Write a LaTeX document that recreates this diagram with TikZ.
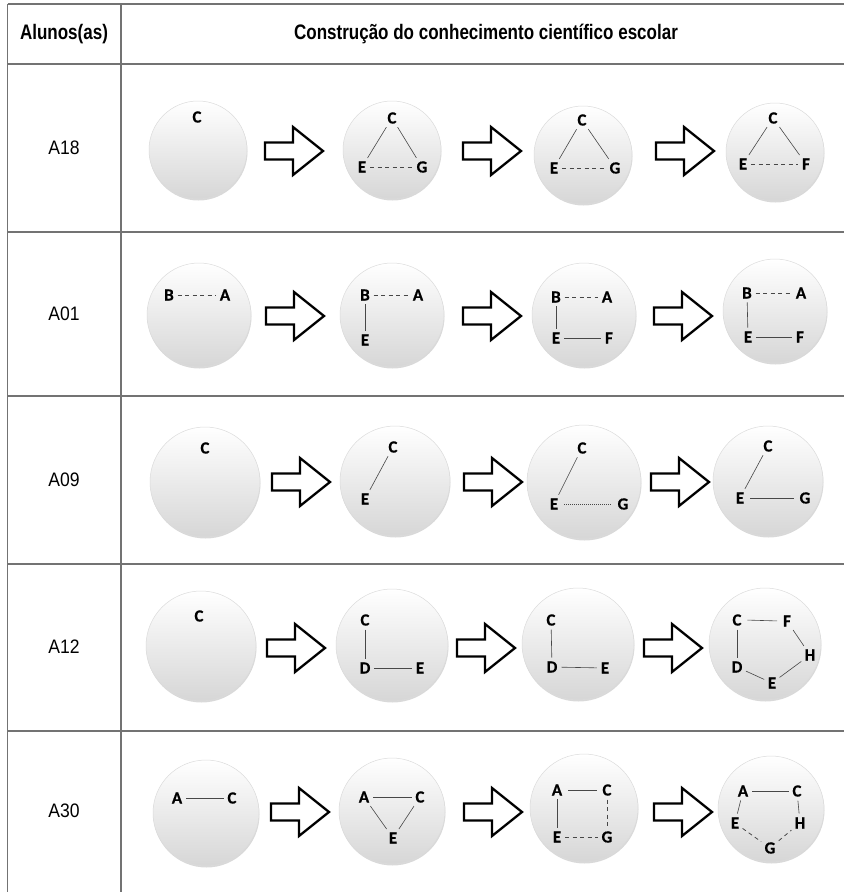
\documentclass[tikz,border=0pt]{standalone}
\usepackage{fontspec}
\usetikzlibrary{shadows}
\newfontfamily\hdrfont{Liberation Sans}[FakeStretch=0.81]
\newfontfamily\rowfont{Liberation Sans}[FakeStretch=0.9]
\newfontfamily\labfont{Carlito}[FakeBold=0.6]
\tikzset{
  tline/.style={draw=black!55, line width=1.3pt},
  hdr/.style={font=\hdrfont\bfseries\fontsize{21}{21}\selectfont, inner sep=0pt},
  rowlab/.style={font=\rowfont\fontsize{19.5}{19.5}\selectfont, inner sep=0pt},
  bubble/.style={circle, inner sep=0pt, minimum size=#1, top color=white, bottom color=black!16,
    draw=black!14, line width=0.5pt,
    drop shadow={opacity=0.3, shadow xshift=0.5pt, shadow yshift=-1.5pt}},
  lab/.style={font=\labfont\bfseries\fontsize{17}{17}\selectfont, inner sep=1.2pt, text=black},
  ln/.style={draw=black!72, line width=0.6pt, shorten >=2.5pt, shorten <=2.5pt},
  dsh/.style={ln, line width=0.8pt, dash pattern=on 4pt off 3.5pt},
  dtt/.style={ln, line width=0.6pt, dash pattern=on 1pt off 1pt},
  barrow/.style={draw=black, fill=white, line width=2.3pt, line join=miter}
}
\newcommand\blockarrow[1]{\draw[barrow, shift={(#1)}] (-29,-8.5) -- (-1,-8.5) -- (-1,-24) -- (29,0) -- (-1,24) -- (-1,8.5) -- (-29,8.5) -- cycle;}
\begin{document}
\begin{tikzpicture}[x=1pt,y=-1pt]
\useasboundingbox (0,0) rectangle (844,892);
% table
\draw[tline] (7.5,4) -- (844,4);
\draw[tline] (7.5,64) -- (844,64);
\draw[tline] (7.5,232) -- (844,232);
\draw[tline] (7.5,396) -- (844,396);
\draw[tline] (7.5,564) -- (844,564);
\draw[tline] (7.5,731) -- (844,731);
\draw[tline] (7.5,4) -- (7.5,892);
\draw[tline] (121,4) -- (121,892);
\node[hdr] (h1) at (64,34) {Alunos(as)};
\node[hdr] (h2) at (486,34) {Construção do conhecimento científico escolar};
\node[rowlab] (l1) at (64,148) {A18};
\node[rowlab] (l2) at (64,314) {A01};
\node[rowlab] (l3) at (64,480) {A09};
\node[rowlab] (l4) at (64,647) {A12};
\node[rowlab] (l5) at (64,811) {A30};
% arrows
\blockarrow{294,151}\blockarrow{492,151}\blockarrow{685,151}
\blockarrow{295,316}\blockarrow{492,316}\blockarrow{683,316}
\blockarrow{301,482}\blockarrow{493,482}\blockarrow{680,482}
\blockarrow{296,648}\blockarrow{486,648}\blockarrow{673,648}
\blockarrow{300,812}\blockarrow{493,812}\blockarrow{683,812}
% ---------- row 1 (A18)
\node[bubble=98pt] (b11) at (198,150) {};
\node[bubble=98pt] (b12) at (392,150) {};
\node[bubble=98pt] (b13) at (583,155) {};
\node[bubble=98pt] (b14) at (775,152) {};
\node[lab] (a11C) at (197,117) {C};
\node[lab] (a12C) at (392,118) {C};
\node[lab] (a12E) at (362,167) {E};
\node[lab] (a12G) at (422,167) {G};
\draw[ln] (a12C) -- (a12E); \draw[ln] (a12C) -- (a12G); \draw[dsh] (a12E) -- (a12G);
\node[lab] (a13C) at (582,120) {C};
\node[lab] (a13E) at (554,168) {E};
\node[lab] (a13G) at (615,168) {G};
\draw[ln] (a13C) -- (a13E); \draw[ln] (a13C) -- (a13G); \draw[dsh] (a13E) -- (a13G);
\node[lab] (a14C) at (773,118) {C};
\node[lab] (a14E) at (743,164) {E};
\node[lab] (a14F) at (806,164) {F};
\draw[ln] (a14C) -- (a14E); \draw[ln] (a14C) -- (a14F); \draw[dsh] (a14E) -- (a14F);
% ---------- row 2 (A01)
\node[bubble=104pt] (b21) at (199,315) {};
\node[bubble=104pt] (b22) at (392,315) {};
\node[bubble=104pt] (b23) at (584,315) {};
\node[bubble=104pt] (b24) at (775,311) {};
\node[lab] (a21B) at (169,295) {B};
\node[lab] (a21A) at (225,295) {A};
\draw[dsh] (a21B) -- (a21A);
\node[lab] (a22B) at (365,295) {B};
\node[lab] (a22A) at (418,295) {A};
\node[lab] (a22E) at (365,340) {E};
\draw[dsh] (a22B) -- (a22A); \draw[ln] (a22B) -- (a22E);
\node[lab] (a23B) at (556,297) {B};
\node[lab] (a23A) at (607,297) {A};
\node[lab] (a23E) at (556,338) {E};
\node[lab] (a23F) at (609,338) {F};
\draw[dsh] (a23B) -- (a23A); \draw[ln] (a23B) -- (a23E); \draw[ln] (a23E) -- (a23F);
\node[lab] (a24B) at (747,293) {B};
\node[lab] (a24A) at (801,293) {A};
\node[lab] (a24E) at (748,337) {E};
\node[lab] (a24F) at (800,337) {F};
\draw[dsh] (a24B) -- (a24A); \draw[ln] (a24B) -- (a24E); \draw[ln] (a24E) -- (a24F);
% ---------- row 3 (A09)
\node[bubble=110pt] (b31) at (205,482) {};
\node[bubble=110pt] (b32) at (395,481) {};
\node[bubble=114pt] (b33) at (584,482) {};
\node[bubble=110pt] (b34) at (768,481) {};
\node[lab] (a31C) at (205,448) {C};
\node[lab] (a32C) at (393,447) {C};
\node[lab] (a32E) at (365,499) {E};
\draw[ln] (a32C) -- (a32E);
\node[lab] (a33C) at (582,448) {C};
\node[lab] (a33E) at (554,504) {E};
\node[lab] (a33G) at (623,504) {G};
\draw[ln] (a33C) -- (a33E); \draw[dtt] ([xshift=2pt]a33E.east) -- ([xshift=-2pt]a33G.west);
\node[lab] (a34C) at (768,446) {C};
\node[lab] (a34E) at (740,498) {E};
\node[lab] (a34G) at (805,498) {G};
\draw[ln] (a34C) -- (a34E); \draw[ln] ([xshift=2pt]a34E.east) -- ([xshift=-2pt]a34G.west);
% ---------- row 4 (A12)
\node[bubble=110pt] (b41) at (201,646) {};
\node[bubble=112pt] (b42) at (392,645) {};
\node[bubble=112pt] (b43) at (578,644) {};
\node[bubble=112pt] (b44) at (765,644) {};
\node[lab] (a41C) at (199,616) {C};
\node[lab] (a42C) at (365,620) {C};
\node[lab] (a42D) at (365,668) {D};
\node[lab] (a42E) at (420,668) {E};
\draw[ln] (a42C) -- (a42D); \draw[ln] (a42D) -- (a42E);
\node[lab] (a43C) at (551,620) {C};
\node[lab] (a43D) at (552,667) {D};
\node[lab] (a43E) at (605,668) {E};
\draw[ln] (a43C) -- (a43D); \draw[ln] (a43D) -- (a43E);
\node[lab] (a44C) at (737,620) {C};
\node[lab] (a44F) at (787,621) {F};
\node[lab] (a44H) at (810,655) {H};
\node[lab] (a44D) at (737,667) {D};
\node[lab] (a44E) at (772,683) {E};
\draw[ln] ([xshift=2pt]a44C.east) -- ([xshift=-2pt]a44F.west); \draw[ln] (a44F) -- (a44H); \draw[ln] (a44H) -- (a44E);
\draw[ln] (a44D) -- (a44E); \draw[ln] (a44C) -- (a44D);
% ---------- row 5 (A30)
\node[bubble=106pt] (b51) at (206,813) {};
\node[bubble=106pt] (b52) at (392,811) {};
\node[bubble=108pt] (b53) at (584,808) {};
\node[bubble=106pt] (b54) at (771,809) {};
\node[lab] (a51A) at (177,798) {A};
\node[lab] (a51C) at (232,798) {C};
\draw[ln] (a51A) -- (a51C);
\node[lab] (a52A) at (364,797) {A};
\node[lab] (a52C) at (420,797) {C};
\node[lab] (a52E) at (393,838) {E};
\draw[ln] (a52A) -- (a52C); \draw[ln] (a52A) -- (a52E); \draw[ln] (a52C) -- (a52E);
\node[lab] (a53A) at (557,790) {A};
\node[lab] (a53C) at (607,790) {C};
\node[lab] (a53E) at (557,837) {E};
\node[lab] (a53G) at (607,837) {G};
\draw[ln] ([xshift=2pt]a53A.east) -- ([xshift=-2pt]a53C.west); \draw[ln] (a53A) -- (a53E);
\draw[dsh] (a53C) -- (a53G); \draw[dsh] (a53E) -- (a53G);
\node[lab] (a54A) at (743,791) {A};
\node[lab] (a54C) at (797,791) {C};
\node[lab] (a54E) at (735,823) {E};
\node[lab] (a54H) at (800,823) {H};
\node[lab] (a54G) at (770,848) {G};
\draw[ln] (a54A) -- (a54C); \draw[ln] (a54A) -- (a54E); \draw[ln] (a54C) -- (a54H);
\draw[dsh] (a54E) -- (a54G); \draw[dsh] (a54G) -- (a54H);
\end{tikzpicture}
\end{document}
